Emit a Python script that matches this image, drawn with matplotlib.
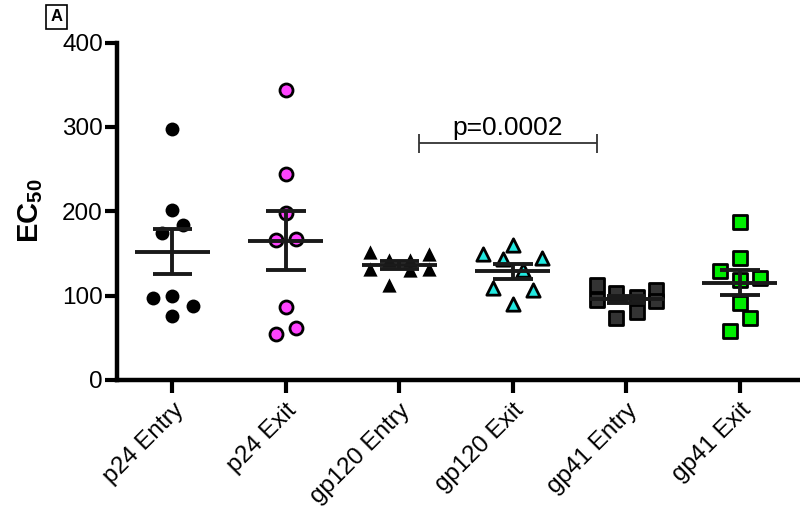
import matplotlib
matplotlib.use('Agg')
import numpy as np
from matplotlib import pyplot as plt
from matplotlib.markers import MarkerStyle

plt.rcParams['font.family'] = ['Liberation Sans', 'DejaVu Sans']
plt.rcParams['mathtext.fontset'] = 'custom'
plt.rcParams['mathtext.rm'] = 'Liberation Sans'
plt.rcParams['mathtext.bf'] = 'Liberation Sans:bold'

# categories and values (EC50)
groups = ['p24 Entry', 'p24 Exit', 'gp120 Entry', 'gp120 Exit', 'gp41 Entry', 'gp41 Exit']
p24_entry = [297, 201, 184, 174, 97, 100, 88, 76]
p24_exit = [344, 244, 197.5, 166, 167, 87, 62, 54.5]
gp120_entry = [152, 132, 142, 112.6, 142, 130, 149, 132]
gp120_exit = [149, 160, 143, 145, 130, 108.6, 106.6, 89.7]
gp41_entry = [112.6, 95, 103, 73, 98.7, 81, 106.6, 94]
gp41_exit = [187.6, 144, 129.5, 118.5, 120.5, 91.6, 73, 58.4]
yticks = [0, 100, 200, 300, 400]
p_text = 'p=0.0002'

# horizontal spread of points inside each column (as in the picture)
spread = [
    [0, 0, 0.09, -0.09, -0.17, 0, 0.18, 0],
    [0, 0, 0, -0.09, 0.09, 0, 0.09, -0.09],
    [-0.26, -0.26, -0.09, -0.09, 0.09, 0.09, 0.26, 0.26],
    [-0.26, 0, -0.09, 0.26, 0.09, -0.175, 0.175, 0],
    [-0.26, -0.26, -0.09, -0.09, 0.09, 0.09, 0.26, 0.26],
    [0, 0, -0.175, 0, 0.175, 0, 0.0875, -0.0875],
]
data = [p24_entry, p24_exit, gp120_entry, gp120_exit, gp41_entry, gp41_exit]

sq = MarkerStyle('s', joinstyle='round')
styles = [
    dict(marker='o', s=100, facecolor='black', edgecolor='black', linewidths=0),
    dict(marker='o', s=88, facecolor='#ff44ff', edgecolor='black', linewidths=2),
    dict(marker='^', s=105, facecolor='black', edgecolor='black', linewidths=0),
    dict(marker='^', s=92, facecolor='#22e8e0', edgecolor='black', linewidths=2),
    dict(marker=sq, s=88, facecolor='#333333', edgecolor='black', linewidths=2),
    dict(marker=sq, s=88, facecolor='#00ee00', edgecolor='black', linewidths=2),
]

fig = plt.figure(figsize=(8, 5.11), dpi=100)
ax = fig.add_axes([0.146, 0.2564, 0.854, 0.6604])

for i, vals in enumerate(data):
    vals = np.array(vals)
    xs = i + np.array(spread[i])
    ax.scatter(xs, vals, zorder=3, **styles[i])
    m = vals.mean()
    sem = vals.std(ddof=1) / np.sqrt(len(vals))
    ax.hlines(m, i - 0.33, i + 0.33, color='#1a1a1a', lw=2.8, zorder=4)
    ax.vlines(i, m - sem, m + sem, color='#1a1a1a', lw=2.8, zorder=4)
    ax.hlines([m - sem, m + sem], i - 0.175, i + 0.175, color='#1a1a1a', lw=2.8, zorder=4)

# significance bracket
ax.hlines(280.5, 2.17, 3.74, color='#333333', lw=1.3)
ax.vlines([2.17, 3.74], 269.5, 291.5, color='#333333', lw=1.3)
ax.text(2.955, 290, p_text, ha='center', va='baseline', fontsize=19)

ax.set_xlim(-0.49, 5.53)
ax.set_ylim(0, 400)
ax.set_yticks(yticks)
ax.set_xticks(range(len(groups)))
ax.set_xticklabels(groups, rotation=45, ha='right', rotation_mode='anchor', fontsize=17.5)
ax.tick_params(axis='y', labelsize=17.5, width=3, length=9, pad=1)
ax.tick_params(axis='x', width=3, length=9, pad=5)
for s in ['top', 'right']:
    ax.spines[s].set_visible(False)
for s in ['left', 'bottom']:
    ax.spines[s].set_linewidth(3.2)

ax.set_ylabel(r'$\mathbf{EC}_{\mathbf{50}}$', fontsize=21, labelpad=12)

fig.text(0.0706, 0.967, 'A', ha='center', va='center', fontsize=12, fontweight='bold',
         bbox=dict(boxstyle='square,pad=0.25', fc='white', ec='black', lw=1.2))

fig.savefig('out.png', dpi=100)
